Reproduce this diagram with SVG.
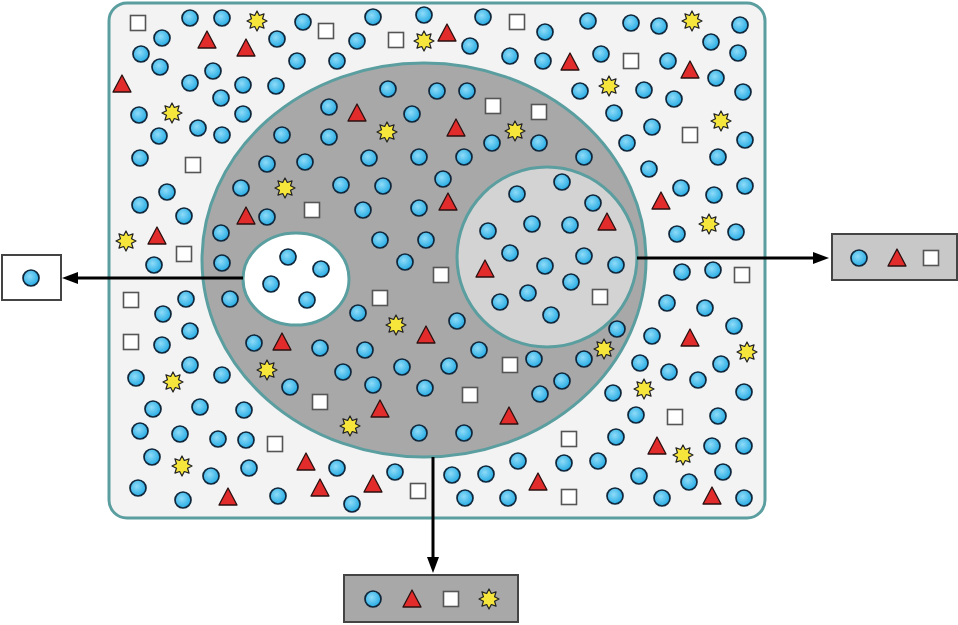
<svg xmlns="http://www.w3.org/2000/svg" xmlns:xlink="http://www.w3.org/1999/xlink" width="958" height="625" viewBox="0 0 958 625">
<style>
.wall{stroke:#5b9ea0;stroke-width:3}
.arrow{stroke:#000;stroke-width:3;fill:none;marker-end:url(#ah)}
.box{stroke:#444;stroke-width:2}
</style>
<defs>
<radialGradient id="blue" cx="42%" cy="40%" r="60%">
<stop offset="0" stop-color="#8edbf8"/>
<stop offset="1" stop-color="#27ace4"/>
</radialGradient>
<marker id="ah" viewBox="0 0 16 12" markerWidth="16" markerHeight="12" refX="6" refY="6" orient="auto" markerUnits="userSpaceOnUse">
<path d="M0,0 L16,6 L0,12 z" fill="#000"/>
</marker>
<circle id="c" r="8" fill="url(#blue)" stroke="#10263a" stroke-width="1.7"/>
<path id="t" d="M0,-9 L9,8 L-9,8 z" fill="#e22b2b" stroke="#2a1010" stroke-width="1.3" stroke-linejoin="round"/>
<rect id="s" x="-7.5" y="-7.5" width="15" height="15" fill="#fff" stroke="#555" stroke-width="1.6"/>
<path id="st" d="M0,-10 L2.3,-5.54 L7.07,-7.07 L5.54,-2.3 L10,0 L5.54,2.3 L7.07,7.07 L2.3,5.54 L0,10 L-2.3,5.54 L-7.07,7.07 L-5.54,2.3 L-10,0 L-5.54,-2.3 L-7.07,-7.07 L-2.3,-5.54 z" fill="#f6e63c" stroke="#222" stroke-width="1.2" stroke-linejoin="round"/>
</defs>

<g id="cell">
<rect x="109" y="3" width="656" height="515" rx="18" fill="#f3f3f3" class="wall"/>
</g>
<g id="compartment-large">
<ellipse cx="424" cy="260" rx="222" ry="197" fill="#a8a8a8" class="wall"/>
</g>
<g id="compartment-white">
<ellipse cx="296" cy="279" rx="53" ry="46" fill="#ffffff" class="wall"/>
</g>
<g id="compartment-light">
<circle cx="547" cy="257" r="90" fill="#d3d3d3" class="wall"/>
</g>

<g id="particles-circles">
<use href="#c" x="190" y="18"/><use href="#c" x="222" y="18"/><use href="#c" x="303" y="22"/><use href="#c" x="373" y="17"/><use href="#c" x="424" y="15"/><use href="#c" x="483" y="17"/><use href="#c" x="588" y="21"/><use href="#c" x="631" y="23"/><use href="#c" x="659" y="26"/><use href="#c" x="740" y="25"/>
<use href="#c" x="162" y="38"/><use href="#c" x="277" y="39"/><use href="#c" x="357" y="41"/><use href="#c" x="470" y="46"/><use href="#c" x="545" y="32"/><use href="#c" x="711" y="42"/><use href="#c" x="141" y="54"/><use href="#c" x="601" y="54"/><use href="#c" x="738" y="53"/><use href="#c" x="510" y="56"/>
<use href="#c" x="160" y="67"/><use href="#c" x="297" y="61"/><use href="#c" x="213" y="71"/><use href="#c" x="337" y="61"/><use href="#c" x="543" y="61"/><use href="#c" x="668" y="61"/>
<use href="#c" x="190" y="83"/><use href="#c" x="243" y="85"/><use href="#c" x="276" y="86"/><use href="#c" x="716" y="78"/><use href="#c" x="580" y="91"/><use href="#c" x="644" y="90"/><use href="#c" x="743" y="92"/><use href="#c" x="388" y="89"/><use href="#c" x="437" y="91"/><use href="#c" x="467" y="91"/><use href="#c" x="674" y="99"/><use href="#c" x="221" y="98"/>
<use href="#c" x="329" y="107"/><use href="#c" x="412" y="114"/><use href="#c" x="139" y="115"/><use href="#c" x="243" y="114"/><use href="#c" x="614" y="113"/>
<use href="#c" x="652" y="127"/><use href="#c" x="198" y="128"/><use href="#c" x="222" y="135"/><use href="#c" x="159" y="136"/><use href="#c" x="282" y="135"/><use href="#c" x="329" y="137"/><use href="#c" x="492" y="143"/><use href="#c" x="539" y="143"/><use href="#c" x="627" y="143"/><use href="#c" x="745" y="140"/>
<use href="#c" x="140" y="158"/><use href="#c" x="267" y="164"/><use href="#c" x="305" y="162"/><use href="#c" x="369" y="158"/><use href="#c" x="419" y="157"/><use href="#c" x="464" y="157"/><use href="#c" x="584" y="157"/><use href="#c" x="718" y="157"/><use href="#c" x="649" y="169"/>
<use href="#c" x="443" y="179"/><use href="#c" x="341" y="185"/><use href="#c" x="383" y="186"/><use href="#c" x="167" y="192"/><use href="#c" x="241" y="188"/><use href="#c" x="517" y="194"/><use href="#c" x="562" y="182"/><use href="#c" x="681" y="188"/><use href="#c" x="714" y="195"/><use href="#c" x="745" y="186"/>
<use href="#c" x="140" y="205"/><use href="#c" x="363" y="210"/><use href="#c" x="419" y="208"/><use href="#c" x="593" y="203"/>
<use href="#c" x="184" y="216"/><use href="#c" x="267" y="217"/><use href="#c" x="221" y="233"/><use href="#c" x="380" y="240"/><use href="#c" x="426" y="240"/><use href="#c" x="532" y="224"/><use href="#c" x="488" y="231"/><use href="#c" x="570" y="225"/><use href="#c" x="677" y="234"/><use href="#c" x="736" y="232"/>
<use href="#c" x="154" y="265"/><use href="#c" x="222" y="263"/><use href="#c" x="288" y="257"/><use href="#c" x="321" y="269"/><use href="#c" x="405" y="262"/><use href="#c" x="510" y="253"/><use href="#c" x="584" y="256"/><use href="#c" x="545" y="266"/><use href="#c" x="616" y="265"/><use href="#c" x="682" y="272"/><use href="#c" x="713" y="270"/>
<use href="#c" x="271" y="284"/><use href="#c" x="307" y="300"/><use href="#c" x="571" y="282"/><use href="#c" x="528" y="293"/><use href="#c" x="500" y="302"/><use href="#c" x="186" y="299"/><use href="#c" x="230" y="299"/><use href="#c" x="667" y="303"/><use href="#c" x="705" y="308"/>
<use href="#c" x="163" y="314"/><use href="#c" x="358" y="313"/><use href="#c" x="457" y="321"/><use href="#c" x="551" y="315"/><use href="#c" x="190" y="331"/><use href="#c" x="617" y="329"/><use href="#c" x="734" y="326"/><use href="#c" x="652" y="336"/><use href="#c" x="162" y="345"/><use href="#c" x="254" y="343"/><use href="#c" x="320" y="348"/><use href="#c" x="365" y="350"/><use href="#c" x="479" y="350"/>
<use href="#c" x="584" y="359"/><use href="#c" x="534" y="359"/><use href="#c" x="640" y="363"/><use href="#c" x="669" y="372"/><use href="#c" x="698" y="380"/><use href="#c" x="721" y="364"/><use href="#c" x="190" y="365"/><use href="#c" x="136" y="378"/><use href="#c" x="222" y="375"/><use href="#c" x="290" y="387"/><use href="#c" x="343" y="372"/><use href="#c" x="402" y="367"/><use href="#c" x="449" y="366"/><use href="#c" x="373" y="385"/><use href="#c" x="425" y="388"/><use href="#c" x="540" y="394"/><use href="#c" x="562" y="381"/><use href="#c" x="613" y="393"/><use href="#c" x="744" y="392"/>
<use href="#c" x="153" y="409"/><use href="#c" x="200" y="407"/><use href="#c" x="244" y="410"/><use href="#c" x="419" y="433"/><use href="#c" x="464" y="433"/><use href="#c" x="636" y="415"/><use href="#c" x="718" y="416"/><use href="#c" x="140" y="431"/><use href="#c" x="180" y="434"/><use href="#c" x="218" y="439"/><use href="#c" x="246" y="440"/><use href="#c" x="616" y="437"/><use href="#c" x="712" y="446"/><use href="#c" x="744" y="446"/>
<use href="#c" x="152" y="457"/><use href="#c" x="249" y="468"/><use href="#c" x="337" y="468"/><use href="#c" x="518" y="461"/><use href="#c" x="564" y="463"/><use href="#c" x="598" y="461"/><use href="#c" x="723" y="472"/>
<use href="#c" x="211" y="476"/><use href="#c" x="395" y="472"/><use href="#c" x="452" y="475"/><use href="#c" x="486" y="474"/><use href="#c" x="639" y="476"/><use href="#c" x="689" y="482"/><use href="#c" x="138" y="488"/><use href="#c" x="183" y="500"/><use href="#c" x="278" y="496"/><use href="#c" x="352" y="504"/><use href="#c" x="465" y="498"/><use href="#c" x="508" y="498"/><use href="#c" x="615" y="496"/><use href="#c" x="662" y="498"/><use href="#c" x="744" y="498"/>
</g>

<g id="particles-triangles">
<use href="#t" x="207" y="40"/><use href="#t" x="246" y="48"/><use href="#t" x="447" y="33"/><use href="#t" x="570" y="62"/><use href="#t" x="690" y="70"/><use href="#t" x="122" y="84"/><use href="#t" x="357" y="113"/><use href="#t" x="456" y="128"/><use href="#t" x="448" y="202"/><use href="#t" x="661" y="201"/><use href="#t" x="246" y="216"/><use href="#t" x="157" y="236"/><use href="#t" x="607" y="222"/><use href="#t" x="485" y="269"/><use href="#t" x="426" y="335"/><use href="#t" x="282" y="342"/><use href="#t" x="690" y="338"/><use href="#t" x="380" y="409"/><use href="#t" x="509" y="416"/><use href="#t" x="306" y="462"/><use href="#t" x="657" y="446"/><use href="#t" x="538" y="482"/><use href="#t" x="373" y="484"/><use href="#t" x="320" y="488"/><use href="#t" x="228" y="497"/><use href="#t" x="712" y="496"/>
</g>

<g id="particles-squares">
<use href="#s" x="138" y="23"/><use href="#s" x="326" y="31"/><use href="#s" x="396" y="40"/><use href="#s" x="517" y="22"/><use href="#s" x="631" y="61"/><use href="#s" x="493" y="106"/><use href="#s" x="539" y="112"/><use href="#s" x="690" y="135"/><use href="#s" x="193" y="165"/><use href="#s" x="312" y="210"/><use href="#s" x="184" y="254"/><use href="#s" x="742" y="275"/><use href="#s" x="441" y="275"/><use href="#s" x="600" y="297"/><use href="#s" x="131" y="300"/><use href="#s" x="380" y="298"/><use href="#s" x="131" y="342"/><use href="#s" x="510" y="365"/><use href="#s" x="470" y="395"/><use href="#s" x="320" y="402"/><use href="#s" x="675" y="417"/><use href="#s" x="275" y="444"/><use href="#s" x="569" y="439"/><use href="#s" x="418" y="491"/><use href="#s" x="569" y="497"/>
</g>

<g id="particles-stars">
<use href="#st" x="257" y="21"/><use href="#st" x="424" y="41"/><use href="#st" x="692" y="21"/><use href="#st" x="609" y="86"/><use href="#st" x="172" y="113"/><use href="#st" x="387" y="132"/><use href="#st" x="515" y="131"/><use href="#st" x="721" y="121"/><use href="#st" x="285" y="188"/><use href="#st" x="126" y="241"/><use href="#st" x="709" y="224"/><use href="#st" x="396" y="325"/><use href="#st" x="604" y="349"/><use href="#st" x="747" y="352"/><use href="#st" x="173" y="382"/><use href="#st" x="267" y="370"/><use href="#st" x="644" y="389"/><use href="#st" x="350" y="426"/><use href="#st" x="182" y="466"/><use href="#st" x="683" y="455"/>
</g>

<g id="connectors">
<line class="arrow" x1="243" y1="278" x2="72" y2="278"/>
<line class="arrow" x1="637" y1="258" x2="819" y2="258"/>
<line class="arrow" x1="433" y1="457" x2="433" y2="563"/>
</g>

<g id="output-left">
<rect class="box" x="2" y="255" width="59" height="45" fill="#ffffff"/>
<use href="#c" x="31" y="278"/>
</g>
<g id="output-right">
<rect class="box" x="832" y="234" width="125" height="46" fill="#c8c8c8"/>
<use href="#c" x="859" y="258"/>
<use href="#t" x="897" y="258"/>
<use href="#s" x="931" y="258"/>
</g>
<g id="output-bottom">
<rect class="box" x="344" y="575" width="174" height="47" fill="#a8a8a8"/>
<use href="#c" x="373" y="599"/>
<use href="#t" x="412" y="599"/>
<use href="#s" x="451" y="599"/>
<use href="#st" x="489" y="599"/>
</g>
</svg>
